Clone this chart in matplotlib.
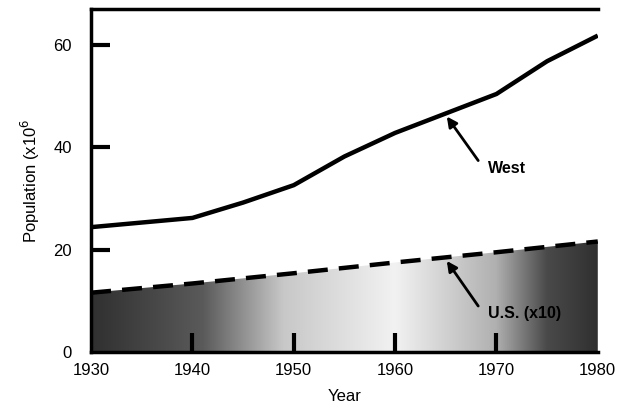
import numpy as np
import matplotlib
matplotlib.use("Agg")
import matplotlib.pyplot as plt
from matplotlib.colors import LinearSegmentedColormap

plt.rcParams['font.family'] = ['Liberation Sans', 'DejaVu Sans']

# data
years = [1930, 1940, 1945, 1950, 1955, 1960, 1965, 1970, 1975, 1980]
west = [24.4, 26.2, 29.2, 32.6, 38.2, 42.8, 46.6, 50.4, 56.8, 61.8]
us_years = [1930, 1940, 1950, 1960, 1965, 1970, 1980]
us_div10 = [11.6, 13.4, 15.4, 17.5, 18.5, 19.5, 21.6]

x_ticks = [1930, 1940, 1950, 1960, 1970, 1980]
y_ticks = [0, 20, 40, 60]

fig = plt.figure(figsize=(6.24, 4.08), dpi=100)
ax = fig.add_axes([0.146, 0.137, 0.812, 0.841])

ax.set_xlim(1930, 1980)
ax.set_ylim(0, 67)

# shaded area under the U.S. curve: dark at both ends, light in the middle
cmap = LinearSegmentedColormap.from_list(
    "scan", [(0, "#303030"), (0.22, "#5a5a5a"), (0.38, "#c8c8c8"),
             (0.6, "#f2f2f2"), (0.8, "#b0b0b0"), (0.9, "#4a4a4a"), (1, "#303030")])
grad = np.linspace(0, 1, 256).reshape(1, -1)
img = ax.imshow(grad, cmap=cmap, aspect='auto', extent=[1930, 1980, 0, 67],
                zorder=1)
poly = ax.fill_between(us_years, us_div10, 0, color='none', lw=0)
img.set_clip_path(poly.get_paths()[0], transform=ax.transData)

ax.plot(years, west, color='black', lw=3.2, solid_capstyle='butt', zorder=3)
ax.plot(us_years, us_div10, color='black', lw=3.2, ls=(0, (4.5, 2.5)),
        zorder=3)

arrow = dict(arrowstyle='-|>', color='black', lw=2, mutation_scale=15,
             shrinkA=0, shrinkB=0)
ax.annotate("", xy=(1965.1, 46.0), xytext=(1968.2, 37.4), arrowprops=arrow)
ax.text(1969.2, 35.9, "West", fontsize=11.5, fontweight='bold',
        ha='left', va='center')
ax.annotate("", xy=(1965.1, 17.8), xytext=(1968.2, 9.0), arrowprops=arrow,
            zorder=4)
ax.text(1969.2, 7.6, "U.S. (x10)", fontsize=11.5, fontweight='bold',
        ha='left', va='center', zorder=4)

ax.set_xticks(x_ticks)
ax.set_yticks(y_ticks)
ax.tick_params(direction='in', length=14, width=3, labelsize=12, pad=8)
ax.tick_params(axis='y', pad=14)
ax.xaxis.get_major_ticks()[0].tick1line.set_visible(False)
ax.xaxis.get_major_ticks()[-1].tick1line.set_visible(False)
ax.yaxis.get_major_ticks()[0].tick1line.set_visible(False)

for side in ['left', 'bottom', 'top']:
    ax.spines[side].set_linewidth(2.5)
ax.spines['right'].set_visible(False)

ax.set_xlabel("Year", fontsize=12, labelpad=8)
ax.set_ylabel("Population (x10$^6$", fontsize=12, labelpad=8)

fig.savefig("out.png", dpi=100)
